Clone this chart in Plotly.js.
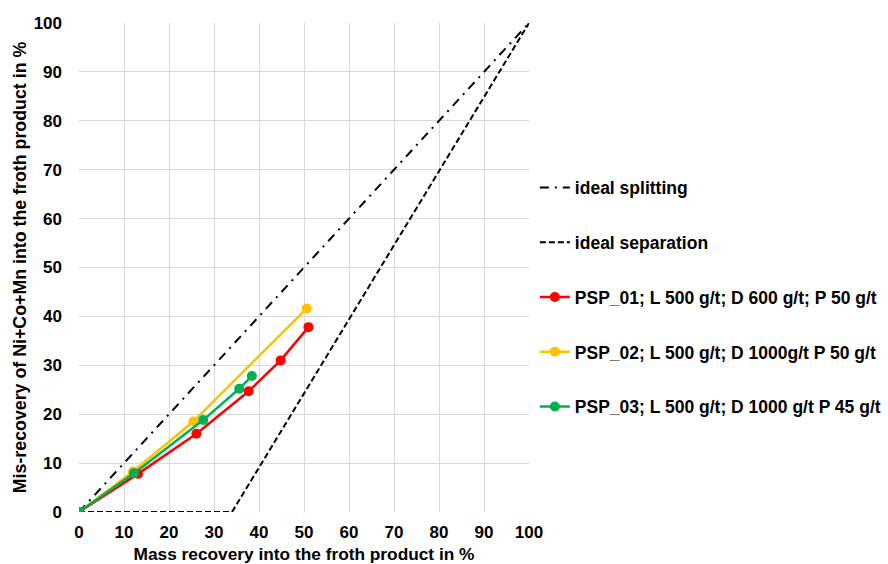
<!DOCTYPE html>
<html><head><meta charset="utf-8">
<script src="https://cdn.plot.ly/plotly-3.0.1.min.js"></script>
<style>html,body{margin:0;padding:0;background:#fff}#chart{width:888px;height:564px}</style>
</head><body><div id="chart"></div>
<script>
var splitX = [0, 100];
var splitY = [0, 100];
var sepX = [0, 34, 100];
var sepY = [0, 0, 100];
var psp01X = [0, 13.1, 26.1, 37.7, 44.8, 51.0];
var psp01Y = [0, 7.8, 16.0, 24.7, 31.0, 37.8];
var psp02X = [0, 12.0, 25.4, 50.6];
var psp02Y = [0, 8.3, 18.5, 41.6];
var psp03X = [0, 12.2, 27.6, 35.6, 38.4];
var psp03Y = [0, 7.9, 18.8, 25.2, 27.8];
var names = ['ideal splitting', 'ideal separation',
  'PSP_01; L 500 g/t; D 600 g/t; P 50 g/t',
  'PSP_02; L 500 g/t; D 1000g/t P 50 g/t',
  'PSP_03; L 500 g/t; D 1000 g/t P 45 g/t'];
var tickVals = [0,10,20,30,40,50,60,70,80,90,100];

var traces = [
  {x: splitX, y: splitY, mode: 'lines', name: names[0], legendgroup: 'a', legendrank: 1,
   line: {color: '#000', width: 2, dash: '9px,6px,2px,6px'}},
  {x: sepX, y: sepY, mode: 'lines', name: names[1], legendgroup: 'b', legendrank: 2,
   line: {color: '#000', width: 2, dash: '6px,3px'}},
  {x: psp02X, y: psp02Y, mode: 'lines+markers', name: names[3], legendgroup: 'd', legendrank: 4,
   line: {color: '#ffc000', width: 2.5}, marker: {color: '#ffc000', size: 10}},
  {x: psp01X, y: psp01Y, mode: 'lines+markers', name: names[2], legendgroup: 'c', legendrank: 3,
   line: {color: '#ff0000', width: 2.5}, marker: {color: '#ff0000', size: 10}},
  {x: psp03X, y: psp03Y, mode: 'lines+markers', name: names[4], legendgroup: 'e', legendrank: 5,
   line: {color: '#00b050', width: 2.5}, marker: {color: '#00b050', size: 10}}
];

var fam = 'Liberation Sans, Arial, sans-serif';
var tickFont = {family: fam, size: 17, color: '#000', weight: 'bold'};
var layout = {
  width: 888, height: 564,
  margin: {l: 79, r: 359, t: 23, b: 52, autoexpand: false},
  paper_bgcolor: '#fff', plot_bgcolor: '#fff',
  font: tickFont,
  showlegend: true,
  legend: {x: 1.013, xanchor: 'left', y: 0.70, yanchor: 'top', tracegroupgap: 29,
    font: {family: fam, size: 17.5, color: '#000', weight: 'bold'},
    bgcolor: 'rgba(0,0,0,0)', itemwidth: 30},
  xaxis: {range: [0, 100], tickvals: tickVals, gridcolor: '#d9d9d9', gridwidth: 1,
    zeroline: false, showline: false, ticks: '', ticklabelstandoff: 8, automargin: false,
    tickfont: tickFont,
    title: {text: 'Mass recovery into the froth product in %',
      font: {family: fam, size: 17.3, color: '#000', weight: 'bold'}, standoff: 11}},
  yaxis: {range: [0, 100], tickvals: tickVals, gridcolor: '#d9d9d9', gridwidth: 1,
    zeroline: false, showline: false, ticks: '', ticklabelstandoff: 16, automargin: false,
    tickfont: tickFont,
    title: {text: 'Mis-recovery of Ni+Co+Mn into the froth product in %',
      font: {family: fam, size: 17.8, color: '#000', weight: 'bold'}, standoff: 2}}
};
Plotly.newPlot('chart', traces, layout, {displayModeBar: false, staticPlot: true});
</script></body></html>
